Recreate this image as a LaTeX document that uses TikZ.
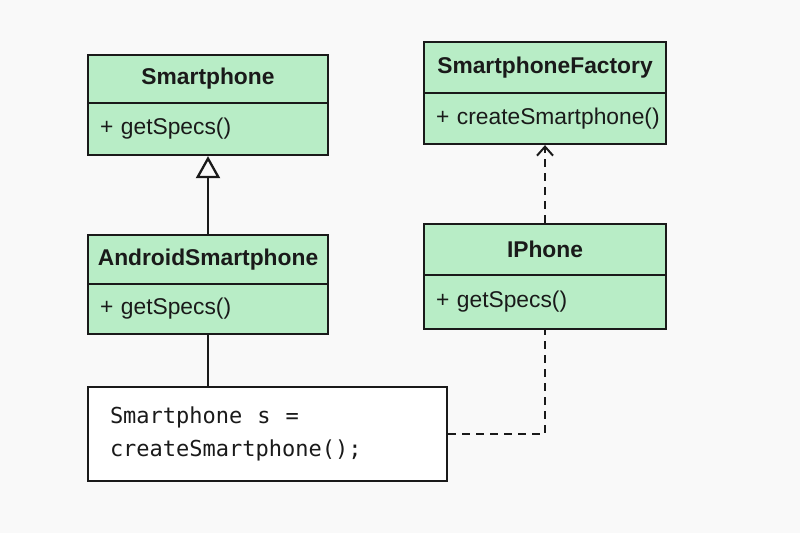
\documentclass[tikz,border=0pt]{standalone}
\usepackage{fontspec}
\setmainfont{Liberation Sans}
\newfontfamily\codefont{DejaVu Sans Mono}
\usetikzlibrary{arrows.meta}
\definecolor{bgc}{HTML}{F9F9F9}
\definecolor{cgreen}{HTML}{B8EDC6}
\definecolor{ink}{HTML}{1A1A1A}
\begin{document}
\begin{tikzpicture}[x=1pt,y=-1pt,
  titlebox/.style={draw=ink, fill=cgreen, line width=2.3pt, inner sep=0pt, font=\bfseries\fontsize{22.8}{26}\selectfont, text=ink},
  methbox/.style={draw=ink, fill=cgreen, line width=2.3pt, inner ysep=0pt, inner xsep=12pt, align=left, font=\fontsize{22.8}{26}\selectfont, text=ink},
  codebox/.style={draw=ink, fill=white, line width=2.3pt, inner ysep=0pt, inner xsep=22pt, align=left, font=\codefont\fontsize{22}{33}\selectfont, text=ink},
  conn/.style={draw=ink, line width=2.3pt},
  dashedconn/.style={draw=ink, line width=2pt, dash pattern=on 8pt off 6pt}
]
\fill[bgc] (0,0) rectangle (800,533);
% Smartphone
\node[titlebox, minimum width=240pt, minimum height=48pt] (spt) at (208,79) {Smartphone};
\node[methbox, text width=216pt, minimum height=52pt] (spm) at (208,129) {\mbox{+ getSpecs()}};
% SmartphoneFactory
\node[titlebox, minimum width=242pt, minimum height=51pt] (sft) at (545,67.5) {SmartphoneFactory};
\node[methbox, text width=218pt, minimum height=51pt, inner xsep=12pt] (sfm) at (545,118.5) {\mbox{+ createSmartphone()}};
% AndroidSmartphone
\node[titlebox, minimum width=240pt, minimum height=49pt] (ast) at (208,259.5) {AndroidSmartphone};
\node[methbox, text width=216pt, minimum height=50pt] (asm) at (208,309) {\mbox{+ getSpecs()}};
% IPhone
\node[titlebox, minimum width=242pt, minimum height=51pt] (ipt) at (545,249.5) {IPhone};
\node[methbox, text width=218pt, minimum height=54pt] (ipm) at (545,302) {\mbox{+ getSpecs()}};
% code box
\node[codebox, text width=315pt, minimum height=94pt] (code) at (267.5,434) {Smartphone\hspace{15pt}s\hspace{15pt}=\\createSmartphone();};
% connectors
\draw[conn, -{Triangle[open, length=22pt, width=24pt, line width=2.3pt]}] (ast.north) -- (spm.south);
\draw[dashedconn, -{Straight Barb[length=9pt, width=16pt, line width=2pt]}] (ipt.north) -- (sfm.south);
\draw[conn] (asm.south) -- (asm.south |- code.north);
\draw[dashedconn] (code.east) -| (ipm.south);
\end{tikzpicture}
\end{document}
